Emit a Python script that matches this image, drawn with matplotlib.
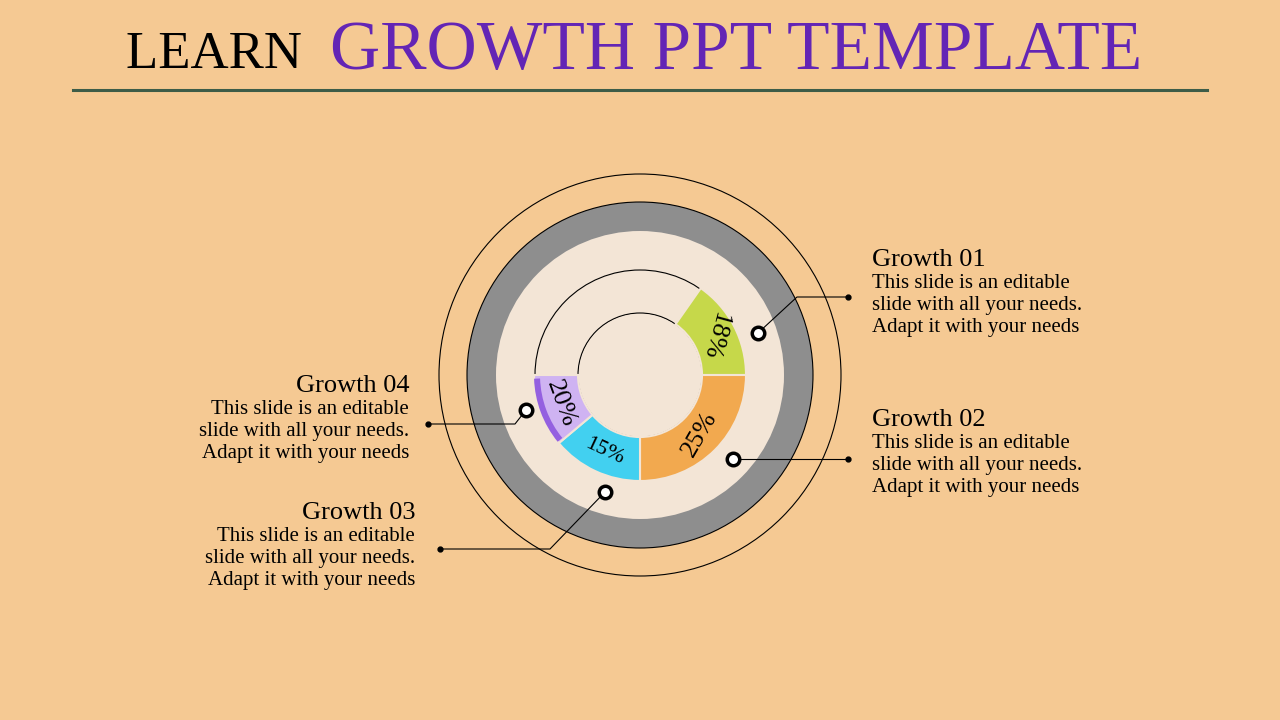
import matplotlib
matplotlib.use("Agg")
import matplotlib.pyplot as plt
from matplotlib.patches import Wedge, Circle

labels = ["18%", "25%", "15%", "20%"]
spans = [(0, 55), (-90, 0), (-140, -90), (-180, -140)]
colors = ["#c6d84a", "#f2a94f", "#42d0f0", "#cfb3f2"]
text_rot = [-105, 60, -25, -70]
titles = ["Growth 01", "Growth 02", "Growth 03", "Growth 04"]
body = "This slide is an editable\nslide with all your needs.\nAdapt it with your needs"

fig = plt.figure(figsize=(12.8, 7.2), dpi=100)
fig.patch.set_facecolor("#f5c993")
ax = fig.add_axes([0, 0, 1, 1])
ax.set_xlim(0, 1280)
ax.set_ylim(0, 720)
ax.set_aspect("equal")
ax.axis("off")
F = "Liberation Serif"

def Y(py):
    return 720 - py

cx, cy = 640, Y(375)
ax.add_patch(Circle((cx, cy), 201, fill=False, ec="black", lw=0.8))
ax.add_patch(Circle((cx, cy), 173, fc="#8e8e8e", ec="black", lw=0.8))
ax.add_patch(Circle((cx, cy), 144, fc="#f3e5d6", ec="none"))
ax.add_patch(Circle((cx, cy), 105, fill=False, ec="black", lw=0.8))
ax.add_patch(Circle((cx, cy), 62, fill=False, ec="black", lw=0.8))
ax.add_patch(Circle((cx, cy), 61, fc="#f3e5d6", ec="none", zorder=2))

import numpy as np
for lab, (a0, a1), c, rot in zip(labels, spans, colors, text_rot):
    ax.add_patch(Wedge((cx, cy), 106, a0, a1, width=44, fc=c, ec="#f3e5d6", lw=1.5, zorder=3))
    if lab == "20%":
        ax.add_patch(Wedge((cx, cy), 106, a0 + 2, a1 - 1, width=6, fc="#9460e0", ec="none", zorder=4))
    m = np.radians((a0 + a1) / 2)
    ax.text(cx + 84 * np.cos(m), cy + 84 * np.sin(m), lab, rotation=rot, fontsize=19 if lab != "15%" else 16,
            family=F, ha="center", va="center", zorder=5)

# connectors: dot on ring, elbow, end dot, text
conns = [((758, 333), (797, 297), (848, 297)),
         ((733, 459), (733, 459), (848, 459)),
         ((605, 492), (550, 549), (440, 549)),
         ((526, 410), (515, 424), (428, 424))]
for (d, e, t) in conns:
    ax.plot([d[0], e[0], t[0]], [Y(d[1]), Y(e[1]), Y(t[1])], color="black", lw=0.8, zorder=6)
    ax.plot(d[0], Y(d[1]), "o", ms=9, mfc="white", mec="black", mew=2.5, zorder=7)
    ax.plot(t[0], Y(t[1]), "o", ms=3.5, color="black", zorder=7)

blocks = [(872, 260, "left"), (872, 420, "left"), (415, 513, "right"), (409, 386, "right")]
for tt, (x, y, ha) in zip(titles, blocks):
    ax.text(x, Y(y), tt, fontsize=19, family=F, ha=ha, va="center")
    ax.text(x, Y(y + 14), body, fontsize=15, family=F, ha=ha, va="top", linespacing=1.2)

ax.text(315, Y(55), "LEARN ", fontsize=38, family=F, ha="right", va="center")
ax.text(330, Y(52), "GROWTH PPT TEMPLATE", fontsize=50, family=F, color="#6325b5", ha="left", va="center")
ax.plot([73, 1207], [Y(90), Y(90)], color="#3d5c48", lw=2.2)

fig.savefig("out.png", dpi=100, facecolor=fig.get_facecolor())
